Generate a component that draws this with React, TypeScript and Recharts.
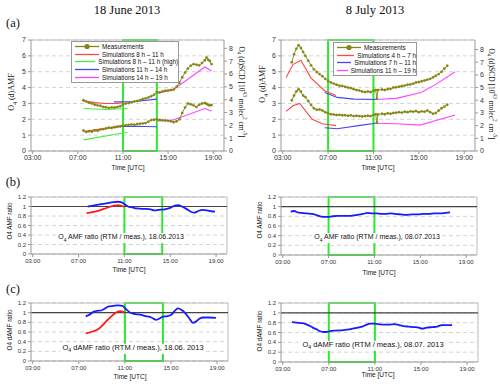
import React from "react";
import {
  LineChart,
  Line,
  XAxis,
  YAxis,
  CartesianGrid,
  ReferenceArea,
  ReferenceLine,
} from "recharts";

// axis ticks
const hourTicks = [3, 7, 11, 15, 19];
const amfTicks = [0, 1, 2, 3, 4, 5, 6, 7];
const scdTicks = [0, 1, 2, 3, 4, 5, 6, 7, 8];
const ratioTicks = [0, 0.2, 0.4, 0.6, 0.8, 1, 1.2];

// 18 June 2013 - measurements
const juneTimes = [7.5, 7.75, 8, 8.25, 8.5, 8.75, 9, 9.25, 9.5, 9.75, 10, 10.25, 10.5, 10.75, 11, 11.25, 11.5, 11.75, 12, 12.25, 12.5, 12.75, 13, 13.25, 13.5, 13.75, 14, 14.25, 14.5, 14.75, 15, 15.25, 15.5, 15.75, 16, 16.25, 16.5, 16.75, 17, 17.25, 17.5, 17.75, 18, 18.25, 18.4, 18.55, 18.7, 18.85];
const juneAmfMeas = [3.2, 3.12, 3.05, 3.0, 2.92, 2.88, 2.85, 2.78, 2.76, 2.72, 2.75, 2.74, 2.78, 2.82, 2.95, 3.0, 3.02, 3.08, 3.12, 3.15, 3.2, 3.28, 3.32, 3.38, 3.45, 3.55, 3.72, 3.7, 3.76, 3.8, 3.82, 3.85, 3.88, 4.05, 4.3, 4.65, 4.95, 5.2, 5.38, 5.48, 5.45, 5.4, 5.55, 5.72, 5.9, 5.75, 5.68, 5.48];
const juneScdMeas = [1.3, 1.2, 1.25, 1.22, 1.3, 1.28, 1.35, 1.38, 1.42, 1.47, 1.45, 1.5, 1.53, 1.55, 1.6, 1.62, 1.65, 1.68, 1.66, 1.7, 1.72, 1.74, 1.76, 1.85, 1.95, 1.97, 2.0, 1.96, 1.94, 1.92, 1.9, 1.88, 1.82, 1.88, 2.0, 2.4, 2.75, 3.0, 2.95, 2.88, 2.78, 2.92, 3.0, 3.03, 2.98, 2.9, 2.88, 2.9];

// 18 June 2013 - simulations
const juneRedT = [7.5, 8.5, 9.5, 10.5, 11.0];
const juneRedAmf = [3.15, 3.05, 3.0, 3.0, 3.05];
const juneRedScdT = [7.5, 9.0, 11.0];
const juneRedScd = [1.22, 1.38, 1.6];
const juneGreenT = [7.5, 9.5, 11.4];
const juneGreenAmf = [2.68, 2.62, 2.68];
const juneGreenScdT = [7.5, 11.4];
const juneGreenScd = [0.7, 1.18];
const juneBlueT = [10.2, 12, 14];
const juneBlueAmf = [3.1, 3.12, 3.27];
const juneBlueScd = [1.53, 1.56, 1.53];
const juneMagT = [14, 15.45, 18.25, 18.85];
const juneMagAmf = [3.63, 3.86, 5.3, 5.05];
const juneMagScd = [1.9, 1.95, 2.68, 2.52];

// 8 July 2013 - measurements
const julyTimes = [3.8, 4.0, 4.2, 4.4, 4.6, 4.8, 5.0, 5.25, 5.5, 5.75, 6.0, 6.25, 6.5, 6.75, 7.0, 7.25, 7.5, 7.75, 8.0, 8.25, 8.5, 8.75, 9.0, 9.25, 9.5, 9.75, 10.0, 10.25, 10.5, 10.75, 11.0, 11.2, 11.3, 11.4, 11.75, 12.0, 12.25, 12.5, 12.75, 13.0, 13.25, 13.5, 13.75, 14.0, 14.25, 14.5, 14.75, 15.0, 15.25, 15.5, 15.75, 16.0, 16.25, 16.5, 16.75, 17.0, 17.25, 17.5];
const julyAmfMeas = [5.6, 6.1, 6.45, 6.67, 6.5, 6.25, 6.0, 5.7, 5.4, 5.15, 4.98, 4.85, 4.72, 4.55, 4.42, 4.32, 4.25, 4.18, 4.12, 4.1, 4.05, 4.0, 3.97, 3.9, 3.85, 3.82, 3.75, 3.72, 3.75, 3.72, 3.8, 3.85, 3.3, 3.85, 3.88, 3.85, 3.9, 3.92, 4.0, 4.02, 4.05, 4.1, 4.12, 4.18, 4.2, 4.25, 4.32, 4.35, 4.4, 4.45, 4.5, 4.55, 4.65, 4.75, 4.85, 5.0, 5.2, 5.38];
const julyScdMeas = [3.2, 3.5, 3.75, 3.9, 3.75, 3.5, 3.4, 3.15, 2.9, 2.7, 2.6, 2.62, 2.55, 2.45, 2.38, 2.32, 2.3, 2.27, 2.28, 2.25, 2.26, 2.22, 2.25, 2.2, 2.22, 2.2, 2.18, 2.2, 2.22, 2.2, 2.28, 2.32, 1.78, 2.3, 2.35, 2.32, 2.38, 2.35, 2.4, 2.42, 2.45, 2.42, 2.48, 2.45, 2.5, 2.48, 2.52, 2.45, 2.5, 2.48, 2.55, 2.45, 2.35, 2.4, 2.55, 2.7, 2.8, 2.92];

// 8 July 2013 - simulations
const julyRedT = [3.3, 3.9, 4.6, 5.5, 6.7, 7.7];
const julyRedAmf = [4.63, 5.45, 5.72, 4.6, 3.8, 3.5];
const julyRedScdT = [3.3, 3.9, 4.5, 5.6, 6.5, 7.7];
const julyRedScd = [2.5, 2.85, 3.0, 2.0, 1.72, 1.6];
const julyBlueT = [6.7, 7.8, 9.3, 11.2];
const julyBlueAmf = [3.69, 3.38, 3.27, 3.25];
const julyBlueScdT = [6.7, 7.8, 10.0, 11.2];
const julyBlueScd = [1.47, 1.4, 1.63, 1.75];
const julyMagT = [11.2, 13, 15.2, 16.5, 18.2];
const julyMagAmf = [3.25, 3.32, 3.69, 4.2, 5.0];
const julyMagScdT = [11.2, 13, 15.1, 18.2];
const julyMagScd = [1.75, 1.72, 1.63, 2.27];

// ratios RTM / measurement
const juneAmfRatioT = [7.8, 8.5, 9.0, 9.5, 10.0, 10.4, 10.7, 10.9, 11.1, 11.3, 11.7, 12.1, 12.5, 12.9, 13.3, 13.6, 14.0, 14.5, 15.0, 15.4, 15.7, 16.0, 16.4, 16.8, 17.1, 17.4, 17.8, 18.2, 18.6, 18.9];
const juneAmfRatio = [1.0, 1.03, 1.05, 1.07, 1.09, 1.1, 1.09, 1.07, 1.03, 1.0, 0.98, 0.96, 0.95, 0.95, 0.94, 0.92, 0.93, 0.94, 0.97, 1.02, 1.03, 1.0, 0.95, 0.89, 0.87, 0.9, 0.93, 0.92, 0.9, 0.89];
const juneAmfRatioHighT = [7.7, 8.2, 8.7, 9.2, 9.7, 10.1, 10.5, 10.8, 11.0];
const juneAmfRatioHigh = [0.86, 0.88, 0.91, 0.95, 0.99, 1.02, 1.03, 1.01, 0.99];
const juneDamfRatioT = [7.6, 8.0, 8.3, 8.7, 9.0, 9.3, 9.6, 10.0, 10.4, 10.8, 11.1, 11.4, 11.9, 12.3, 12.8, 13.3, 13.7, 14.0, 14.3, 14.7, 15.0, 15.3, 15.6, 15.9, 16.2, 16.6, 16.9, 17.2, 17.5, 17.8, 18.3, 18.9];
const juneDamfRatio = [0.92, 0.97, 1.02, 1.04, 1.05, 1.09, 1.13, 1.14, 1.15, 1.14, 1.07, 1.01, 0.97, 0.96, 0.93, 0.9, 0.85, 0.88, 0.92, 0.93, 0.95, 1.03, 1.09, 1.06, 1.0, 0.88, 0.79, 0.82, 0.88, 0.9, 0.9, 0.89];
const juneDamfRatioHighT = [7.6, 8.2, 8.7, 9.1, 9.5, 9.9, 10.2, 10.6, 10.8, 11.0];
const juneDamfRatioHigh = [0.57, 0.61, 0.66, 0.75, 0.85, 0.94, 1.0, 1.03, 1.02, 1.0];
const julyAmfRatioT = [3.7, 4.0, 4.3, 4.7, 5.1, 5.6, 6.0, 6.5, 7.0, 7.3, 7.8, 8.3, 8.9, 9.5, 10.0, 10.4, 10.8, 11.2, 11.6, 12.0, 12.4, 12.8, 13.3, 13.8, 14.3, 14.8, 15.3, 15.8, 16.2, 16.7, 17.2, 17.6];
const julyAmfRatio = [0.9, 0.91, 0.88, 0.87, 0.86, 0.85, 0.82, 0.79, 0.79, 0.8, 0.81, 0.81, 0.81, 0.83, 0.85, 0.87, 0.86, 0.86, 0.85, 0.85, 0.86, 0.85, 0.84, 0.83, 0.84, 0.84, 0.85, 0.85, 0.86, 0.86, 0.87, 0.88];
const julyDamfRatioT = [3.8, 4.2, 4.7, 5.0, 5.3, 5.6, 5.9, 6.2, 6.5, 6.8, 7.1, 7.6, 8.3, 8.9, 9.5, 9.9, 10.2, 10.6, 10.9, 11.3, 11.8, 12.2, 12.7, 13.1, 13.5, 13.9, 14.4, 14.8, 15.1, 15.5, 16.0, 16.4, 16.8, 17.2, 17.7];
const julyDamfRatio = [0.81, 0.8, 0.79, 0.77, 0.74, 0.7, 0.67, 0.63, 0.61, 0.61, 0.63, 0.64, 0.65, 0.67, 0.7, 0.72, 0.75, 0.78, 0.78, 0.77, 0.76, 0.76, 0.77, 0.75, 0.73, 0.72, 0.71, 0.7, 0.68, 0.7, 0.71, 0.72, 0.75, 0.75, 0.75];

// legend labels
const juneLegend = ["Measurements", "Simulations 8 h \u2013 11 h", "Simulations 8 h \u2013 11 h (high)", "Simulations 11 h \u2013 14 h", "Simulations 14 h \u2013 19 h"];
const julyLegend = ["Measurements", "Simulations 4 h \u2013 7 h", "Simulations 7 h \u2013 11 h", "Simulations 11 h \u2013 19 h"];

const OLIVE = "#858515";
const RED = "#ff4545";
const GREEN = "#45ee45";
const BLUE = "#4545ff";
const MAGENTA = "#ff45ff";
const BOX = "#2ee82e";
const SANS = "'Liberation Sans', Arial, sans-serif";
const SERIF = "'Liberation Serif', 'Times New Roman', serif";
const X_DOMAIN: [number, number] = [2.85, 19.95];

type Pt = { t: number; v: number };
const zip = (t: number[], v: number[]): Pt[] => t.map((x, i) => ({ t: x, v: v[i] }));
const fmtHour = (h: number) => `${String(h).padStart(2, "0")}:00`;

type Sim = { color: string; data: Pt[] };

function AmfPanel({ left, meas, sims, box, scdMax, rightW }: { left: number; meas: Pt[][]; sims: Sim[]; box: [number, number]; scdMax: number; rightW: number }) {
  const tick = { fontSize: 7, fill: "#333", fontFamily: SANS };
  return (
    <div style={{ position: "absolute", left, top: 30 }}>
      <LineChart width={250} height={145} margin={{ top: 10, right: 0, bottom: 0, left: 9 }}>
        <CartesianGrid yAxisId="amf" vertical={false} stroke="#d4d4d4" strokeDasharray="4 3" />
        <XAxis type="number" dataKey="t" domain={X_DOMAIN} allowDataOverflow ticks={hourTicks} interval={0} tickFormatter={fmtHour} height={24} tick={tick} tickSize={3} tickMargin={1} stroke="#999" />
        <YAxis yAxisId="amf" domain={[0, 7]} ticks={amfTicks} interval={0} width={22} tick={tick} tickSize={3} tickMargin={2} stroke="#999" />
        <YAxis yAxisId="scd" orientation="right" domain={[0, scdMax]} allowDataOverflow ticks={scdTicks} interval={0} width={rightW} tick={tick} tickSize={3} tickMargin={2} stroke="#999" />
        <ReferenceLine yAxisId="amf" y={7} stroke="#bbb" />
        <ReferenceArea yAxisId="amf" x1={box[0]} x2={box[1]} y1={0} y2={7} fill="none" stroke={BOX} strokeWidth={2} ifOverflow="visible" />
        {sims.map((s, i) => (
          <Line key={"s" + i} yAxisId="amf" data={s.data} dataKey="v" stroke={s.color} strokeWidth={1.1} dot={false} activeDot={false} isAnimationActive={false} />
        ))}
        {meas.map((m, i) => (
          <Line key={"m" + i} yAxisId="amf" data={m} dataKey="v" stroke={OLIVE} strokeWidth={0.9} dot={{ r: 1.2, fill: OLIVE, stroke: OLIVE, strokeWidth: 0.3 }} activeDot={false} isAnimationActive={false} />
        ))}
      </LineChart>
    </div>
  );
}

function RatioPanel({ left, top, height, right, lines, box }: { left: number; top: number; height: number; right: number; lines: Sim[]; box: [number, number] }) {
  const tick = { fontSize: 6, fill: "#333", fontFamily: SANS };
  return (
    <div style={{ position: "absolute", left, top }}>
      <LineChart width={250} height={height} margin={{ top: 10, right, bottom: 0, left: 9 }}>
        <CartesianGrid vertical={false} stroke="#d4d4d4" strokeDasharray="4 3" />
        <XAxis type="number" dataKey="t" domain={X_DOMAIN} allowDataOverflow ticks={hourTicks} interval={0} tickFormatter={fmtHour} height={20} tick={tick} tickSize={3} tickMargin={2} stroke="#999" />
        <YAxis domain={[0, 1.2]} ticks={ratioTicks} interval={0} width={22} tick={tick} tickSize={3} tickMargin={2} stroke="#999" />
        <ReferenceLine y={1.2} stroke="#bbb" />
        <ReferenceLine x={X_DOMAIN[1]} stroke="#bbb" />
        <ReferenceLine y={1} stroke="#444" strokeWidth={1.2} />
        <ReferenceArea x1={box[0]} x2={box[1]} y1={0} y2={1.2} fill="none" stroke={BOX} strokeWidth={2} ifOverflow="visible" />
        {lines.map((s, i) => (
          <Line key={i} data={s.data} dataKey="v" type="monotone" stroke={s.color} strokeWidth={1.8} dot={false} activeDot={false} isAnimationActive={false} />
        ))}
      </LineChart>
    </div>
  );
}

function Legend({ left, top, width, labels, colors }: { left: number; top: number; width: number; labels: string[]; colors: string[] }) {
  return (
    <div style={{ position: "absolute", left, top, width, background: "#fff", border: "1px solid #999", padding: "1px 0", fontFamily: SANS, fontSize: 6.3, color: "#111" }}>
      {labels.map((l, i) => (
        <div key={l} style={{ display: "flex", alignItems: "center", height: 7.6 }}>
          <svg width={24} height={7} style={{ marginLeft: 3, marginRight: 3 }}>
            <line x1={0} y1={3.5} x2={24} y2={3.5} stroke={colors[i]} strokeWidth={1.3} />
            {i === 0 && <circle cx={12} cy={3.5} r={2.6} fill={OLIVE} />}
          </svg>
          <span style={{ whiteSpace: "nowrap" }}>{l}</span>
        </div>
      ))}
    </div>
  );
}

function Txt({ x, y, rot = 0, size, family = SANS, bg, children }: { x: number; y: number; rot?: number; size: number; family?: string; bg?: string; children: React.ReactNode }) {
  return (
    <div style={{ position: "absolute", left: x, top: y, transform: `translate(-50%, -50%) rotate(${rot}deg)`, fontSize: size, fontFamily: family, whiteSpace: "nowrap", color: "#111", background: bg, padding: bg ? "0 2px" : 0, lineHeight: 1.1 }}>
      {children}
    </div>
  );
}

export default function App() {
  const juneSims: Sim[] = [
    { color: RED, data: zip(juneRedT, juneRedAmf) },
    { color: RED, data: zip(juneRedScdT, juneRedScd) },
    { color: GREEN, data: zip(juneGreenT, juneGreenAmf) },
    { color: GREEN, data: zip(juneGreenScdT, juneGreenScd) },
    { color: BLUE, data: zip(juneBlueT, juneBlueAmf) },
    { color: BLUE, data: zip(juneBlueT, juneBlueScd) },
    { color: MAGENTA, data: zip(juneMagT, juneMagAmf) },
    { color: MAGENTA, data: zip(juneMagT, juneMagScd) },
  ];
  const julySims: Sim[] = [
    { color: RED, data: zip(julyRedT, julyRedAmf) },
    { color: RED, data: zip(julyRedScdT, julyRedScd) },
    { color: BLUE, data: zip(julyBlueT, julyBlueAmf) },
    { color: BLUE, data: zip(julyBlueScdT, julyBlueScd) },
    { color: MAGENTA, data: zip(julyMagT, julyMagAmf) },
    { color: MAGENTA, data: zip(julyMagScdT, julyMagScd) },
  ];
  const o4 = (
    <>
      O<sub style={{ fontSize: "0.7em" }}>4</sub>
    </>
  );
  const scdTitle = (
    <>
      O<sub style={{ fontSize: "0.7em" }}>4</sub> (d)SCD [10<sup style={{ fontSize: "0.7em" }}>43</sup> molec<sup style={{ fontSize: "0.7em" }}>2</sup> cm<sup style={{ fontSize: "0.7em" }}>-5</sup>]
    </>
  );
  return (
    <div style={{ position: "absolute", left: 0, top: 0, width: 500, height: 387, background: "#fff", overflow: "hidden" }}>
      <AmfPanel left={0} meas={[zip(juneTimes, juneAmfMeas), zip(juneTimes, juneScdMeas)]} sims={juneSims} box={[11, 14]} scdMax={8.65} rightW={26} />
      <AmfPanel left={250} meas={[zip(julyTimes, julyAmfMeas), zip(julyTimes, julyScdMeas)]} sims={julySims} box={[7, 11]} scdMax={8.75} rightW={25} />
      <RatioPanel left={0} top={187} height={87} right={23} box={[11, 14.3]} lines={[{ color: "#ff1a1a", data: zip(juneAmfRatioHighT, juneAmfRatioHigh) }, { color: "#1a1aff", data: zip(juneAmfRatioT, juneAmfRatio) }]} />
      <RatioPanel left={250} top={187} height={88} right={23} box={[7, 11]} lines={[{ color: "#1a1aff", data: zip(julyAmfRatioT, julyAmfRatio) }]} />
      <RatioPanel left={0} top={293} height={88} right={22} box={[11, 14.3]} lines={[{ color: "#ff1a1a", data: zip(juneDamfRatioHighT, juneDamfRatioHigh) }, { color: "#1a1aff", data: zip(juneDamfRatioT, juneDamfRatio) }]} />
      <RatioPanel left={250} top={293} height={89} right={22} box={[7, 11]} lines={[{ color: "#1a1aff", data: zip(julyDamfRatioT, julyDamfRatio) }]} />

      <Legend left={71} top={41} width={106} labels={juneLegend} colors={[OLIVE, RED, GREEN, BLUE, MAGENTA]} />
      <Legend left={333} top={42} width={82} labels={julyLegend} colors={[OLIVE, RED, BLUE, MAGENTA]} />

      <Txt x={127} y={11} size={12.5} family={SERIF}>18 June 2013</Txt>
      <Txt x={375} y={11} size={12.5} family={SERIF}>8 July 2013</Txt>
      <Txt x={13} y={24} size={12.5} family={SERIF}>(a)</Txt>
      <Txt x={13} y={183} size={12.5} family={SERIF}>(b)</Txt>
      <Txt x={13} y={290} size={12.5} family={SERIF}>(c)</Txt>

      <Txt x={13} y={92} rot={-90} size={8} family={SERIF}>{o4} (d)AMF</Txt>
      <Txt x={264} y={84} rot={-90} size={8} family={SERIF}>{o4} (d)AMF</Txt>
      <Txt x={241} y={92} rot={90} size={7.5} family={SERIF}>{scdTitle}</Txt>
      <Txt x={491} y={94} rot={90} size={7.5} family={SERIF}>{scdTitle}</Txt>

      <Txt x={128} y={168} size={6.5}>Time [UTC]</Txt>
      <Txt x={378} y={168} size={6.5}>Time [UTC]</Txt>
      <Txt x={129} y={270} size={6.5}>Time [UTC]</Txt>
      <Txt x={379} y={273} size={6.5}>Time [UTC]</Txt>
      <Txt x={130} y={377} size={6.5}>Time [UTC]</Txt>
      <Txt x={378} y={375} size={6.5}>Time [UTC]</Txt>

      <Txt x={10} y={221} rot={-90} size={6.3}>O4 AMF ratio</Txt>
      <Txt x={260} y={220} rot={-90} size={6.3}>O4 AMF ratio</Txt>
      <Txt x={10} y={330} rot={-90} size={6.3}>O4 dAMF ratio</Txt>
      <Txt x={260} y={331} rot={-90} size={6.3}>O4 dAMF ratio</Txt>

      <Txt x={121} y={238} size={7} bg="#fff">{o4} AMF ratio (RTM / meas.), 18.06.2013</Txt>
      <Txt x={377} y={238} size={7} bg="#fff">{o4} AMF ratio (RTM / meas.), 08.07.2013</Txt>
      <Txt x={133} y={349} size={7.5} bg="#fff">{o4} dAMF ratio (RTM / meas.), 18.06. 2013</Txt>
      <Txt x={373} y={346} size={7.5} bg="#fff">{o4} dAMF ratio (RTM / meas.), 08.07. 2013</Txt>
    </div>
  );
}
